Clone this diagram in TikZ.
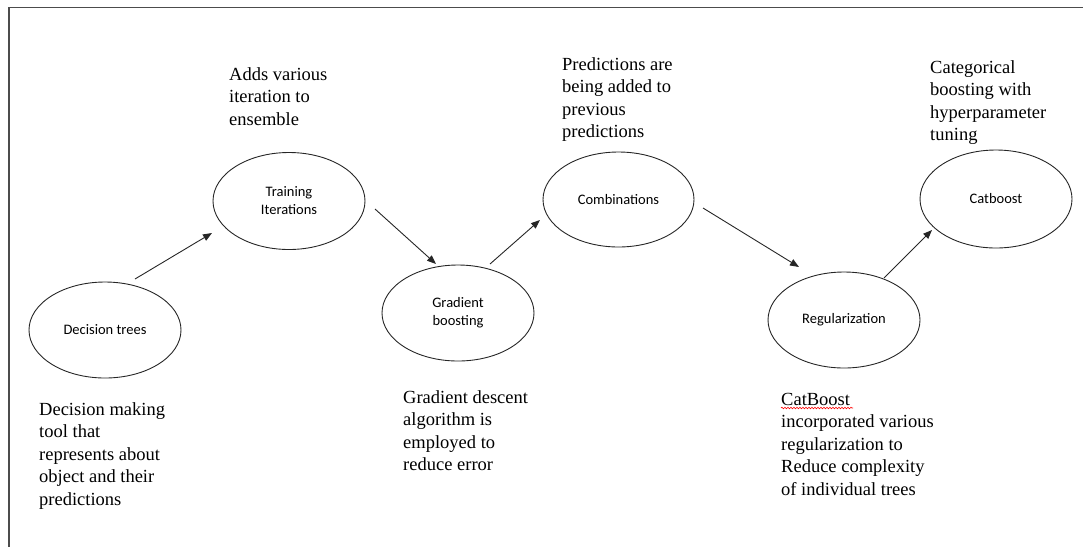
\documentclass[tikz,border=0pt]{standalone}
\usepackage{fontspec}
\setmainfont{Liberation Serif}
\newfontfamily\calibfont{Carlito}
\usetikzlibrary{arrows.meta,calc,shapes.geometric,decorations.pathmorphing}
\begin{document}
\begin{tikzpicture}[x=1pt,y=-1pt,
  stage/.style={ellipse, draw=black!85, line width=0.9pt, minimum width=152pt,
    minimum height=96pt, inner sep=0pt, align=center,
    font=\calibfont\fontsize{14.5}{18}\selectfont},
  note/.style={anchor=base west, inner sep=0pt, align=left,
    font=\fontsize{18.5}{22.5}\selectfont},
  flow/.style={-{Triangle[length=9pt,width=7pt]}, line width=0.9pt, draw=black!85}]
\useasboundingbox (0,0) rectangle (1083,547);
\draw[line width=1.3pt, black!70] (1083,7.5) -- (9,7.5) -- (9,547);

\node[stage] (dt) at (105,330) {Decision trees};
\node[stage, minimum height=97pt] (ti) at (289,201) {Training\\Iterations};
\node[stage] (gb) at (458,313) {Gradient\\boosting};
\node[stage, minimum width=151pt, minimum height=95pt] (cb) at (618.5,199.5) {Combinations};
\node[stage] (rg) at (844,320) {Regularization};
\node[stage, minimum height=98pt] (ct) at (996,199) {Catboost};

% anchor = baseline of the last line
\node[note] (n1) at (39,505) {Decision making\\tool that\\represents about\\object and their\\predictions};
\node[note] (n2) at (229,125) {Adds various\\iteration to\\ensemble};
\node[note] (n3) at (403,470.5) {Gradient descent\\algorithm is\\employed to\\reduce error};
\node[note] (n4) at (562,137.5) {Predictions are\\being added to\\previous\\predictions};
\node[note] (n5) at (781,495) {CatBoost\\incorporated various\\regularization to\\Reduce complexity\\of individual trees};
\node[note] (n6) at (930,140.5) {Categorical\\boosting with\\hyperparameter\\tuning};

\draw[red, line width=0.6pt, decorate, decoration={snake, amplitude=0.8pt, segment length=3pt}]
  ($(n5.base west)+(0,-87)$) -- ($(n5.base west)+(72,-87)$);

\draw[flow] ($(dt)+(30,-51)$) -- ($(ti)+(-77,32)$);
\draw[flow] ($(ti)+(86,8)$) -- ($(gb)+(-22,-49)$);
\draw[flow] ($(gb)+(32,-49)$) -- ($(cb)+(-78.5,20.5)$);
\draw[flow] ($(cb)+(84.5,8.5)$) -- ($(rg)+(-45,-53)$);
\draw[flow] ($(rg)+(40,-42)$) -- ($(ct)+(-64,31)$);
\end{tikzpicture}
\end{document}
